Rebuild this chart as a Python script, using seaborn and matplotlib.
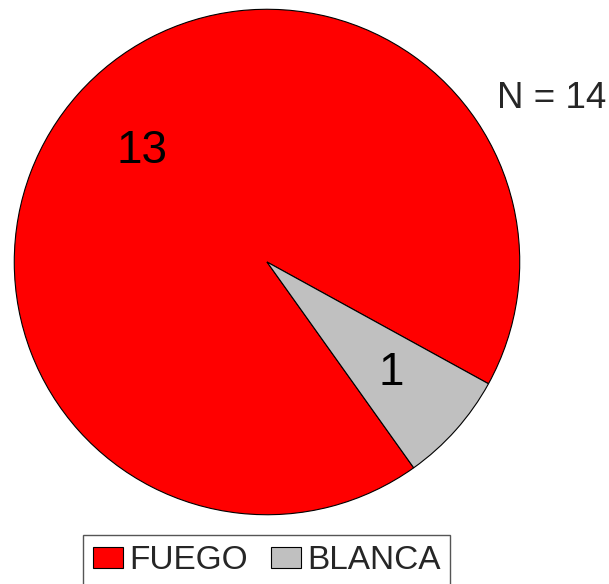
import matplotlib
matplotlib.use("Agg")
import matplotlib.pyplot as plt
import seaborn as sns

# data
categories = ["FUEGO", "BLANCA"]
counts = [13, 1]
colors = ["#FF0000", "#C0C0C0"]
total_label = "N = 14"

sns.set_theme(style="white")
plt.rcParams["font.family"] = ["Liberation Sans", "DejaVu Sans"]

fig = plt.figure(figsize=(6.09, 5.84), dpi=100)
# pie centre (267, 262) px, radius ~254 px
ax = fig.add_axes([13 / 609, (322 - 254) / 584, 508 / 609, 508 / 584])

wedges, texts, autotexts = ax.pie(
    counts,
    colors=colors,
    startangle=-28.8,
    counterclock=True,
    autopct=lambda p: f"{round(p * sum(counts) / 100):d}",
    pctdistance=0.66,
    wedgeprops=dict(edgecolor="black", linewidth=0.8),
    textprops=dict(fontsize=33, color="black"),
)
ax.set_xlim(-1.005, 1.005)
ax.set_ylim(-1.005, 1.005)
ax.set_aspect("equal")
ax.axis("off")

fig.text(497 / 609, 1 - 108 / 584, total_label, fontsize=26.5, va="baseline", ha="left")

leg = fig.legend(
    wedges, categories,
    loc="upper left",
    bbox_to_anchor=(83 / 609, 1 - 535 / 584),
    ncol=2,
    fontsize=24,
    frameon=True,
    fancybox=False,
    handlelength=0.9,
    handleheight=0.58,
    handletextpad=0.18,
    columnspacing=0.7,
    borderpad=0.3,
    borderaxespad=0,
)
leg.get_frame().set_edgecolor("#555555")
leg.get_frame().set_linewidth(1.0)
leg.get_frame().set_alpha(1)

fig.savefig("out.png", dpi=100)
